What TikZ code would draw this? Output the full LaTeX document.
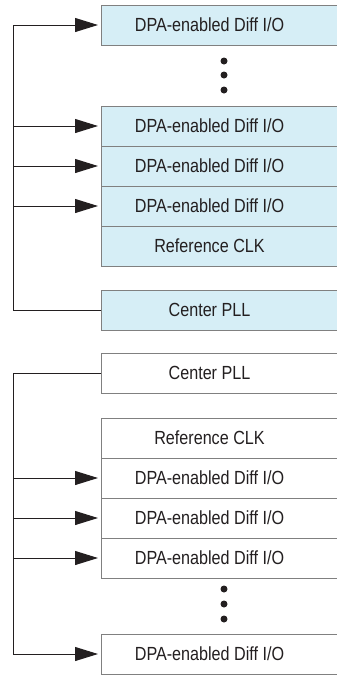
\documentclass[tikz,border=0pt]{standalone}
\usepackage{fontspec}
\setmainfont{Liberation Sans}[FakeStretch=0.85]
\usetikzlibrary{arrows.meta}
\definecolor{dpablue}{RGB}{214,238,246}
\definecolor{boxgray}{RGB}{128,128,128}
\definecolor{wire}{RGB}{35,31,32}
\tikzset{blk/.style={draw=boxgray,line width=1pt,minimum width=240pt,minimum height=40pt,inner sep=0pt,anchor=west},
  blktxt/.style={font=\fontsize{19}{21}\selectfont,text=wire,xshift=-12pt,text height=13.5pt,text depth=0pt,inner sep=0pt},
  feed/.style={draw=wire,line width=1pt,-{Triangle[length=23pt,width=14pt]},shorten >=3pt}}

\begin{document}
\begin{tikzpicture}[x=1pt,y=-1pt]
\useasboundingbox (0,0) rectangle (337,675);
% --- top half: center PLL below the I/O bank
\node[blk,fill=dpablue,label={[blktxt]center:DPA-enabled Diff I/O}] (tio1) at (101,25) {};
\node[blk,fill=dpablue,label={[blktxt]center:DPA-enabled Diff I/O}] (tio2) at (101,126) {};
\node[blk,fill=dpablue,label={[blktxt]center:DPA-enabled Diff I/O}] (tio3) at (101,166) {};
\node[blk,fill=dpablue,label={[blktxt]center:DPA-enabled Diff I/O}] (tio4) at (101,206) {};
\node[blk,fill=dpablue,label={[blktxt]center:Reference CLK}] (tref) at (101,246) {};
\node[blk,fill=dpablue,label={[blktxt]center:Center PLL}] (tpll) at (101,310) {};
\foreach \y in {61,75,90} {\fill[wire] (224,\y) circle (3.5pt);}
\coordinate (tbus) at (13,25);
\draw[feed] (tpll.west) -| (tbus) -- (tio1.west);
\foreach \n in {tio2,tio3,tio4} {\draw[feed] (tbus |- \n.west) -- (\n.west);}
% --- bottom half: center PLL above the I/O bank
\node[blk,fill=white,label={[blktxt]center:Center PLL}] (bpll) at (101,373) {};
\node[blk,fill=white,label={[blktxt]center:Reference CLK}] (bref) at (101,438) {};
\node[blk,fill=white,label={[blktxt]center:DPA-enabled Diff I/O}] (bio1) at (101,478) {};
\node[blk,fill=white,label={[blktxt]center:DPA-enabled Diff I/O}] (bio2) at (101,518) {};
\node[blk,fill=white,label={[blktxt]center:DPA-enabled Diff I/O}] (bio3) at (101,558) {};
\node[blk,fill=white,label={[blktxt]center:DPA-enabled Diff I/O}] (bio4) at (101,654) {};
\foreach \y in {589,604,619} {\fill[wire] (224,\y) circle (3.5pt);}
\coordinate (bbus) at (13,654);
\draw[feed] (bpll.west) -| (bbus) -- (bio4.west);
\foreach \n in {bio1,bio2,bio3} {\draw[feed] (bbus |- \n.west) -- (\n.west);}
\end{tikzpicture}
\end{document}
